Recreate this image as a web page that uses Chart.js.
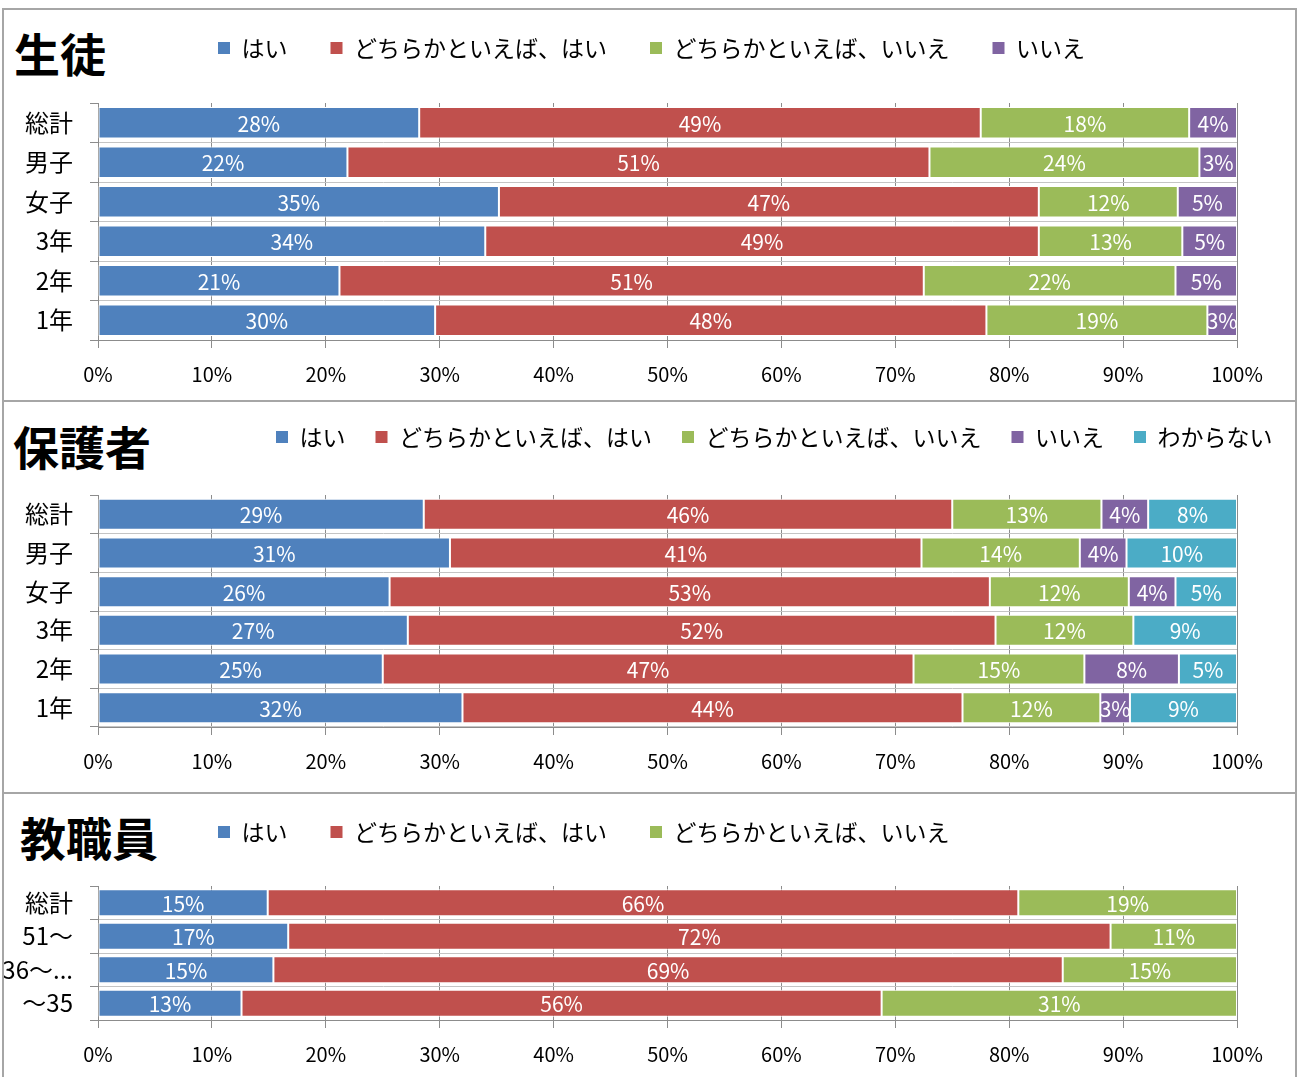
<!DOCTYPE html>
<html lang="ja">
<head>
<meta charset="utf-8">
<script src="https://cdn.jsdelivr.net/npm/chart.js@4/dist/chart.umd.min.js"></script>
<style>
  body { margin: 0; background: #fff; font-family: "Noto Sans CJK JP", sans-serif; }
  #frame { position: absolute; left: 2px; top: 8px; width: 1291px; height: 1100px; border: 2px solid #a6a6a6; }
  .sep { position: absolute; left: 2px; width: 1295px; height: 2px; background: #a6a6a6; }
  .title { position: absolute; font-weight: bold; font-size: 46px; line-height: 1; color: #000; }
  canvas { position: absolute; }
</style>
</head>
<body>
<div id="frame"></div>
<div class="sep" style="top:400px"></div>
<div class="sep" style="top:792px"></div>
<div class="title" style="left:14px;top:29px">生徒</div>
<div class="title" style="left:13px;top:422px">保護者</div>
<div class="title" style="left:20px;top:813px">教職員</div>
<canvas id="students" width="1291" height="389" style="left:4px;top:11px"></canvas>
<canvas id="parents" width="1291" height="384" style="left:4px;top:403px"></canvas>
<canvas id="staff" width="1291" height="285" style="left:4px;top:795px"></canvas>
<script>
// series names and colours
const answerNames = ['はい', 'どちらかといえば、はい', 'どちらかといえば、いいえ', 'いいえ', 'わからない'];
const answerColors = ['#4F81BD', '#C0504D', '#9BBB59', '#8064A2', '#4BACC6'];

// 生徒
const studentLabels = ['総計', '男子', '女子', '3年', '2年', '1年'];
const studentYes      = [28.2, 21.9, 35.2, 34.0, 21.2, 29.6];
const studentRatherYes = [49.3, 51.1, 47.4, 48.6, 51.3, 48.4];
const studentRatherNo  = [18.3, 23.7, 12.2, 12.6, 22.1, 19.4];
const studentNo       = [4.2, 3.3, 5.2, 4.8, 5.4, 2.6];

// 保護者
const parentLabels = ['総計', '男子', '女子', '3年', '2年', '1年'];
const parentYes       = [28.6, 30.9, 25.6, 27.2, 25.0, 32.0];
const parentRatherYes = [46.4, 41.4, 52.7, 51.6, 46.6, 43.9];
const parentRatherNo  = [13.1, 13.9, 12.2, 12.1, 15.0, 12.1];
const parentNo        = [4.1, 4.1, 4.1, 0, 8.3, 2.6];
const parentUnknown   = [7.8, 9.7, 5.4, 9.1, 5.1, 9.4];

// 教職員
const staffLabels = ['総計', '51〜', '36〜...', '〜35'];
const staffYes       = [14.9, 16.7, 15.4, 12.6];
const staffRatherYes = [65.9, 72.2, 69.3, 56.2];
const staffRatherNo  = [19.2, 11.1, 15.3, 31.2];

// x axis ticks
const pctMin = 0, pctMax = 100, pctStep = 10;

const FONT = '"Noto Sans CJK JP", "Noto Sans", sans-serif';
const LEGEND_SIZE = 23;
Chart.defaults.font.family = FONT;
Chart.defaults.color = '#000';

// moves the legend next to the title (same line)
const placeLegend = {
  id: 'placeLegend',
  afterLayout(chart, args, opts) {
    const lg = chart.legend;
    if (!lg) return;
    const pad = lg.options.labels.padding;
    const w = lg.width, h = lg.height;
    lg.left = opts.x - pad;
    lg.right = lg.left + w;
    lg.top = opts.y - pad - LEGEND_SIZE / 2;
    lg.bottom = lg.top + h;
  }
};

// percentage text in the middle of each segment
const segLabels = {
  id: 'segLabels',
  afterDatasetsDraw(chart) {
    const ctx = chart.ctx;
    ctx.save();
    ctx.font = '21px ' + FONT;
    ctx.fillStyle = '#fff';
    ctx.textAlign = 'center';
    ctx.textBaseline = 'middle';
    chart.data.datasets.forEach((ds, di) => {
      const meta = chart.getDatasetMeta(di);
      meta.data.forEach((bar, i) => {
        const v = ds.data[i];
        if (!v) return;
        const p = bar.getProps(['x', 'y', 'base', 'height'], true);
        const left = Math.min(p.x, p.base);
        const w = Math.abs(p.x - p.base);
        ctx.save();
        ctx.beginPath();
        ctx.rect(left, p.y - p.height / 2, w, p.height);
        ctx.clip();
        ctx.fillText(Math.round(v) + '%', left + w / 2, p.y + 1);
        ctx.restore();
      });
    });
    ctx.restore();
  }
};

function makeChart(id, labels, series, legendPos, legendGap, areaTop) {
  const datasets = series.map((data, i) => ({
    label: answerNames[i],
    data: data,
    backgroundColor: answerColors[i],
    borderColor: '#fff',
    borderWidth: 1,
    borderSkipped: false,
    categoryPercentage: 1,
    barPercentage: 0.8
  }));
  // legend (position top) takes size + gap + 10 px of height
  const top = areaTop - (LEGEND_SIZE + legendGap + 10);
  return new Chart(document.getElementById(id), {
    type: 'bar',
    data: { labels: labels, datasets: datasets },
    options: {
      indexAxis: 'y',
      responsive: false,
      animation: false,
      layout: { padding: { top: top, right: 58, left: 0, bottom: 0 } },
      plugins: {
        tooltip: { enabled: false },
        legend: {
          position: 'top',
          align: 'start',
          labels: {
            boxWidth: 12,
            boxHeight: 12,
            padding: legendGap,
            color: '#000',
            font: { size: LEGEND_SIZE, family: FONT },
            generateLabels: c => Chart.defaults.plugins.legend.labels.generateLabels(c)
              .map(item => Object.assign(item, { lineWidth: 0 }))
          }
        },
        placeLegend: legendPos
      },
      scales: {
        x: {
          stacked: true,
          min: pctMin,
          max: pctMax,
          ticks: {
            stepSize: pctStep,
            callback: v => v + '%',
            font: { size: 20 },
            color: '#000',
            padding: 14,
            maxRotation: 0,
            autoSkip: false
          },
          grid: { color: '#8c8c8c', tickLength: 8 },
          border: { color: '#8c8c8c' },
          afterFit: s => { s.height = 60; }
        },
        y: {
          stacked: true,
          ticks: { font: { size: 24 }, color: '#000', padding: 17 },
          grid: {
            offset: true,
            tickLength: 8,
            color: c => c.index === 0 ? 'rgba(0,0,0,0)' : '#c4c4c4',
            tickColor: '#8c8c8c'
          },
          border: { color: '#8c8c8c' },
          afterFit: s => { s.width = 94; }
        }
      }
    },
    plugins: [placeLegend, segLabels]
  });
}

makeChart('students', studentLabels,
  [studentYes, studentRatherYes, studentRatherNo, studentNo],
  { x: 214, y: 37 }, 43, 92);

makeChart('parents', parentLabels,
  [parentYes, parentRatherYes, parentRatherNo, parentNo, parentUnknown],
  { x: 272, y: 34 }, 30, 92);

makeChart('staff', staffLabels,
  [staffYes, staffRatherYes, staffRatherNo],
  { x: 214, y: 37 }, 43, 91);
</script>
</body>
</html>
